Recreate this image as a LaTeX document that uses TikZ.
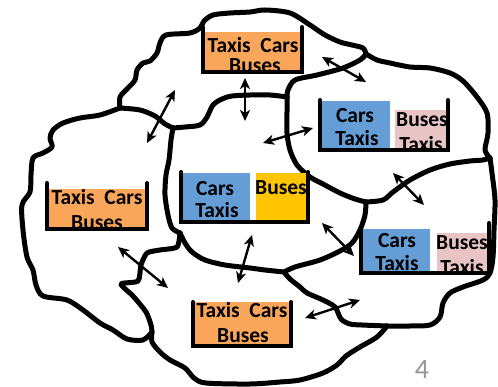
\documentclass[tikz,border=0pt]{standalone}
\usepackage{fontspec}
\setmainfont{Carlito}
\usetikzlibrary{arrows.meta}
\definecolor{boxorange}{HTML}{F9A65A}
\definecolor{boxblue}{HTML}{659DD6}
\definecolor{boxyellow}{HTML}{FFC600}
\definecolor{boxpink}{HTML}{E8C4C4}
\definecolor{pagegray}{HTML}{969696}
\begin{document}
\begin{tikzpicture}[x=1pt,y=-1pt,
  blob/.style={line width=5pt, line join=round, line cap=round},
  bucket/.style={line width=4pt, line cap=round, line join=miter},
  link/.style={line width=2.4pt, {Stealth[length=11pt,width=10pt,inset=3pt]}-{Stealth[length=11pt,width=10pt,inset=3pt]}},
  lbl/.style={font=\fontsize{21.5}{24}\selectfont\bfseries, inner sep=0pt, anchor=base, text=black}]
\useasboundingbox (0,0) rectangle (498,387);

% junctions
\coordinate (J1) at (120,108);
\coordinate (J2) at (173,128);
\coordinate (J3) at (287,97);
\coordinate (J4) at (366,54);
\coordinate (J5) at (490,158);
\coordinate (J6) at (366,202);
\coordinate (J7) at (284,272);
\coordinate (J8) at (387,326);
\coordinate (J9) at (180,233);
\coordinate (J10) at (152,332);

% ---------- region outlines ----------
% top blob outer
\draw[blob] plot[smooth,tension=0.5] coordinates {(J1) (120,97) (128,88) (135,80) (137,70) (143,63) (150,61) (157,53) (160,43) (166,35) (190,33) (200,28) (204,21) (213,15) (230,13) (250,12) (265,10) (290,13) (310,25) (325,35) (340,42) (352,45) (363,48) (J4)};
% top / top-right divider
\draw[blob] plot[smooth,tension=0.5] coordinates {(J4) (360,60) (343,68) (317,75) (295,80) (288,90) (J3)};
% top-right outer
\draw[blob] plot[smooth,tension=0.5] coordinates {(J4) (377,60) (390,63) (410,67) (430,68) (450,73) (463,81) (477,97) (487,113) (488,133) (485,150) (J5)};
% top-right left side (central / top-right)
\draw[blob] plot[smooth,tension=0.5] coordinates {(J3) (287,112) (287,133) (290,150) (297,165) (310,177) (323,184) (340,193) (355,199) (J6)};
% top-right / lower-right
\draw[blob] plot[smooth,tension=0.5] coordinates {(J6) (383,200) (393,192) (410,180) (430,170) (450,164) (470,161) (483,160) (J5)};
% lower-right outer
\draw[blob] plot[smooth,tension=0.5] coordinates {(J5) (492,173) (495,200) (494,230) (493,257) (490,273) (483,280) (463,287) (450,293) (443,303) (440,317) (430,325) (410,326) (J8)};
% lower-right / bottom
\draw[blob] plot[smooth,tension=0.5] coordinates {(J7) (290,279) (300,287) (307,293) (323,300) (335,307) (341,319) (350,324) (362,325) (J8)};
% central / lower-right
\draw[blob] plot[smooth,tension=0.5] coordinates {(J6) (365,215) (360,230) (352,243) (340,251) (320,260) (295,267) (J7)};
% central / bottom
\draw[blob] plot[smooth,tension=0.5] coordinates {(J7) (265,270) (250,268) (225,265) (205,260) (192,252) (185,243) (J9)};
% central / left
\draw[blob] plot[smooth,tension=0.5] coordinates {(J9) (172,228) (168,215) (165,195) (166,175) (169,160) (171,140) (J2)};
% central / top
\draw[blob] plot[smooth,tension=0.5] coordinates {(J2) (185,127) (200,125) (207,117) (213,105) (222,99) (232,96) (250,95) (270,95) (J3)};
% left / top
\draw[blob] plot[smooth,tension=0.5] coordinates {(J1) (140,110) (155,116) (165,124) (J2)};
% left outer
\draw[blob] plot[smooth,tension=0.5] coordinates {(J1) (100,115) (80,118) (63,123) (53,130) (50,138) (52,147) (43,153) (33,158) (31,175) (30,192) (22,205) (23,230) (27,257) (33,270) (36,285) (43,296) (67,300) (83,310) (100,323) (113,330) (127,339) (143,340) (J10)};
% left / bottom
\draw[blob] plot[smooth,tension=0.4] coordinates {(J9) (177,247) (160,250) (147,253) (141,265) (138,281) (121,284) (133,296) (146,312) (151,325) (J10)};
% bottom outer
\draw[blob] plot[smooth,tension=0.5] coordinates {(J10) (152,342) (160,352) (170,360) (185,368) (194,378) (206,383) (250,384) (280,382) (300,380) (323,373) (337,365) (346,356) (360,347) (377,337) (J8)};

% ---------- buckets ----------
% top
\fill[boxorange] (205,32) rectangle (301,72);
\node[lbl] (topA) at (253,53) {Taxis\ \ Cars};
\node[lbl] (topB) at (255,73) {Buses};
\draw[bucket] (203,27) -- (203,72) -- (302,72) -- (302,27);
% left
\fill[boxorange] (49,189) rectangle (146,229);
\node[lbl] (leftA) at (97,205) {Taxis\ \ Cars};
\node[lbl] (leftB) at (97,230) {Buses};
\draw[bucket] (47,183) -- (47,229) -- (147,229) -- (147,183);
% central
\fill[boxblue] (183,173) rectangle (250,221);
\fill[boxyellow] (256,173) rectangle (307,221);
\node[lbl] (cenA) at (215,196) {Cars};
\node[lbl] (cenB) at (217,218) {Taxis};
\node[lbl] (cenC) at (281,195) {Buses};
\draw[bucket] (181,172) -- (181,222) -- (308,222) -- (308,172);
% top-right
\fill[boxblue] (322,101) rectangle (390,150);
\fill[boxpink] (395,110) rectangle (447,150);
\node[lbl] (trA) at (355,123) {Cars};
\node[lbl] (trB) at (357,146) {Taxis};
\node[lbl] (trC) at (422,127) {Buses};
\node[lbl] (trD) at (421,152) {Taxis};
\draw[bucket] (320,100) -- (320,150) -- (448,150) -- (448,100);
% lower-right
\fill[boxblue] (363,229) rectangle (430,273);
\fill[boxpink] (437,233) rectangle (487,273);
\node[lbl] (lrA) at (397,248) {Cars};
\node[lbl] (lrB) at (397,271) {Taxis};
\node[lbl] (lrC) at (462,250) {Buses};
\node[lbl] (lrD) at (462,275) {Taxis};
\draw[bucket] (361,229) -- (361,273) -- (489,273) -- (489,223);
% bottom
\fill[boxorange] (194,302) rectangle (290,345);
\node[lbl] (botA) at (242,318) {Taxis\ \ Cars};
\node[lbl] (botB) at (243,342) {Buses};
\draw[bucket] (193,302) -- (193,346) -- (291,346) -- (291,302);

% ---------- arrows ----------
\coordinate (a1s) at (147,143); \coordinate (a1e) at (175,90);
\coordinate (a2s) at (245,78);  \coordinate (a2e) at (245,121);
\coordinate (a3s) at (322,57);  \coordinate (a3e) at (366,82);
\coordinate (a4s) at (263,143); \coordinate (a4e) at (313,128);
\coordinate (a5s) at (393,173); \coordinate (a5e) at (424,205);
\coordinate (a6s) at (322,223); \coordinate (a6e) at (354,256);
\coordinate (a7s) at (252,235); \coordinate (a7e) at (238,283);
\coordinate (a8s) at (118,247); \coordinate (a8e) at (168,288);
\coordinate (a9s) at (305,318); \coordinate (a9e) at (360,300);
\foreach \i in {1,...,9} {\draw[link] (a\i s) -- (a\i e);}

% page number
\node[font=\fontsize{28}{30}\selectfont, text=pagegray, inner sep=0pt, anchor=base] (pnum) at (422,378) {4};
\end{tikzpicture}
\end{document}
